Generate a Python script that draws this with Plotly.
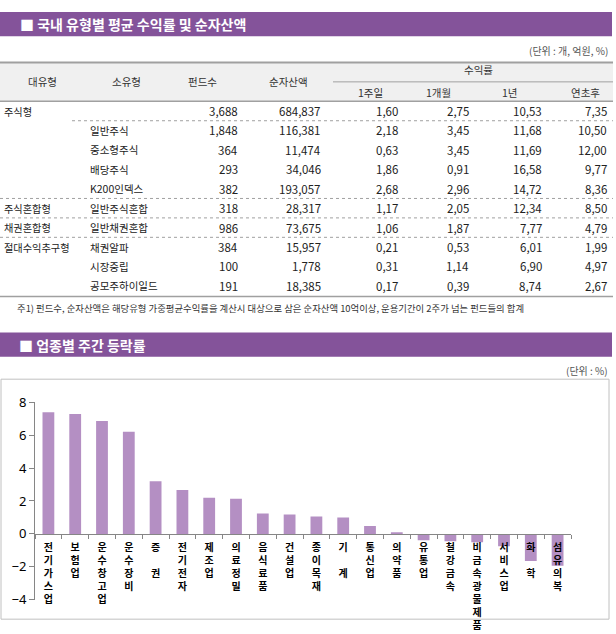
import plotly.graph_objects as go

W, H = 616, 634

# ---------------- table data ----------------
header_main = ["대유형", "소유형", "펀드수", "순자산액"]
header_ret = "수익률"
header_sub = ["1주일", "1개월", "1년", "연초후"]
major_type = ["주식형", "", "", "", "", "주식혼합형", "채권혼합형", "절대수익추구형", "", ""]
minor_type = ["", "일반주식", "중소형주식", "배당주식", "K200인덱스", "일반주식혼합", "일반채권혼합", "채권알파", "시장중립", "공모주하이일드"]
fund_count = ["3,688", "1,848", "364", "293", "382", "318", "986", "384", "100", "191"]
net_assets = ["684,837", "116,381", "11,474", "34,046", "193,057", "28,317", "73,675", "15,957", "1,778", "18,385"]
ret_1w = ["1,60", "2,18", "0,63", "1,86", "2,68", "1,17", "1,06", "0,21", "0,31", "0,17"]
ret_1m = ["2,75", "3,45", "3,45", "0,91", "2,96", "2,05", "1,87", "0,53", "1,14", "0,39"]
ret_1y = ["10,53", "11,68", "11,69", "16,58", "14,72", "12,34", "7,77", "6,01", "6,90", "8,74"]
ret_ytd = ["7,35", "10,50", "12,00", "9,77", "8,36", "8,50", "4,79", "1,99", "4,97", "2,67"]

title1 = "■ 국내 유형별 평균 수익률 및 순자산액"
unit1 = "(단위 : 개, 억원, %)"
footnote = "주1) 펀드수, 순자산액은 해당유형 가중평균수익률을 계산시 대상으로 삼은 순자산액 10억이상, 운용기간이 2주가 넘는 펀드들의 합계"

# ---------------- chart data ----------------
title2 = "■ 업종별 주간 등락률"
unit2 = "(단위 : %)"
sectors = ["전기가스업", "보험업", "운수창고업", "운수장비", "증권", "전기전자", "제조업", "의료정밀",
           "음식료품", "건설업", "종이목재", "기계", "통신업", "의약품", "유통업", "철강금속",
           "비금속광물제품", "서비스업", "화학", "섬유의복"]
sector_label_text = ["전기가스업", "보험업", "운수창고업", "운수장비", "증 권", "전기전자", "제조업", "의료정밀",
                     "음식료품", "건설업", "종이목재", "기 계", "통신업", "의약품", "유통업", "철강금속",
                     "비금속광물제품", "서비스업", "화 학", "섬유의복"]
weekly_change = [7.39, 7.28, 6.86, 6.21, 3.20, 2.66, 2.19, 2.13, 1.24, 1.18, 1.06, 1.00,
                 0.48, 0.06, -0.39, -0.45, -0.50, -0.75, -1.64, -1.93]
y_ticks = [-4, -2, 0, 2, 4, 6, 8]

PURPLE = "#84539a"
BAR = "#b48fc3"
KFONT = "Noto Sans CJK KR"


def X(px):
    return px / W


def Y(py):
    return 1 - py / H


annotations = []
shapes = []


def text(t, px, py, anchor="left", size=11, color="#222", bold=False, family=KFONT):
    annotations.append(dict(
        text=("<b>%s</b>" % t) if bold else t, x=X(px), y=Y(py), xref="paper", yref="paper",
        xanchor=anchor, yanchor="middle", showarrow=False,
        font=dict(size=size, color=color, family=family)))


def hline(x0, x1, py, color="#a0a0a0", width=1, dash="solid"):
    shapes.append(dict(type="line", xref="paper", yref="paper", x0=X(x0), x1=X(x1), y0=Y(py), y1=Y(py),
                       line=dict(color=color, width=width, dash=dash)))


def rect(x0, x1, y0, y1, fill=None, line=None, layer="below"):
    shapes.append(dict(type="rect", xref="paper", yref="paper", x0=X(x0), x1=X(x1), y0=Y(y0), y1=Y(y1),
                       fillcolor=fill if fill else "rgba(0,0,0,0)",
                       line=dict(color=line if line else "rgba(0,0,0,0)", width=1 if line else 0),
                       layer=layer))


# ---- section 1: table ----
rect(0, 612, 3, 28, fill=PURPLE)
text(title1, 18, 15.5, size=14, color="white", bold=True)
text(unit1, 610, 43, anchor="right", size=10, color="#555")

rect(0, 613, 55, 95, fill="#f0f0f0")
hline(0, 613, 55, width=2)
hline(333, 613, 75, width=1)
hline(0, 613, 95, width=1.5)

head_centers = [42, 126, 202, 288]
for t, cx in zip(header_main, head_centers):
    text(t, cx, 75, anchor="center", size=10.5, color="#333")
text(header_ret, 478, 62, anchor="center", size=10.5, color="#333")
for t, cx in zip(header_sub, [370, 438, 510, 585]):
    text(t, cx, 86, anchor="center", size=10.5, color="#333")

row_y = [105 + 20 * i for i in range(len(minor_type))]
num_cols = [(fund_count, 240), (net_assets, 323), (ret_1w, 400), (ret_1m, 471), (ret_1y, 544), (ret_ytd, 609)]
for i, yy in enumerate(row_y):
    if major_type[i]:
        text(major_type[i], 2, yy, size=10.2)
    if minor_type[i]:
        text(minor_type[i], 88, yy, size=10.5)
    for col, rx in num_cols:
        text(col[i], rx, yy, anchor="right", size=11.5)

hline(72, 613, 115, dash="dot")
for yy in (195, 215, 235):
    hline(0, 613, yy, dash="dot")
hline(0, 613, 296, width=1.5)
text(footnote, 15, 308, size=9.4, color="#333")

# ---- section 2: chart ----
rect(0, 612, 333, 358, fill=PURPLE)
text(title2, 17, 346, size=14, color="white", bold=True)
text(unit2, 610, 372, anchor="right", size=10, color="#555")
rect(1, 609, 381, 628, line="#c0c0c0")

y_dom = [Y(608), Y(404.7)]
zero_pos = y_dom[0] + (0 - y_ticks[0]) / (y_ticks[-1] - y_ticks[0]) * (y_dom[1] - y_dom[0])

stacked = ["<b>" + "<br>".join(ch if ch != " " else "\u00a0" for ch in s) + "</b>" for s in sector_label_text]

fig = go.Figure(go.Bar(x=sectors, y=weekly_change, marker=dict(color=BAR, line=dict(width=0)), width=0.44,
                       hoverinfo="skip"))

fig.update_layout(
    width=W, height=H, margin=dict(l=0, r=0, t=0, b=0),
    paper_bgcolor="white", plot_bgcolor="rgba(0,0,0,0)",
    showlegend=False, shapes=shapes, annotations=annotations,
    xaxis=dict(domain=[X(35), X(571)], anchor="free", position=zero_pos,
               tickmode="array", tickvals=sectors, ticktext=stacked,
               tickson="boundaries", ticks="outside", ticklen=4, tickcolor="#868686",
               ticklabelstandoff=4,
               showline=True, linecolor="#868686", linewidth=1, showgrid=False, zeroline=False,
               tickangle=0, tickfont=dict(size=10, color="#000", family=KFONT),
               fixedrange=True),
    yaxis=dict(domain=y_dom, range=[y_ticks[0], y_ticks[-1]], tickvals=y_ticks,
               ticks="outside", ticklen=5, tickcolor="#868686",
               showline=True, linecolor="#868686", linewidth=1, showgrid=False, zeroline=False,
               tickfont=dict(size=13, color="#000", family="Noto Sans"), fixedrange=True),
)

fig.write_html("out.html", config={"displayModeBar": False},
               post_script="document.body.style.margin='0px';document.body.style.overflow='hidden';")
